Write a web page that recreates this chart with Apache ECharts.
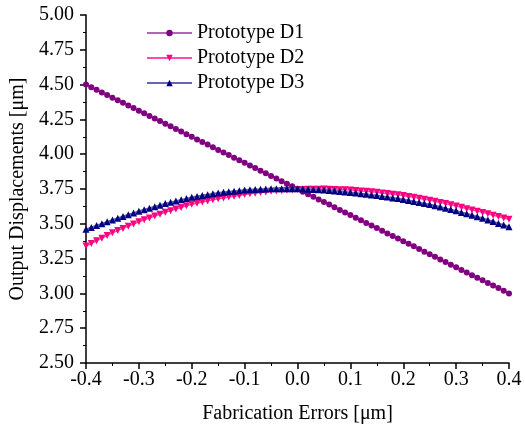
<!DOCTYPE html>
<html>
<head>
<meta charset="utf-8">
<script src="https://cdn.jsdelivr.net/npm/echarts@6/dist/echarts.min.js"></script>
<style>
  html, body { margin: 0; padding: 0; background: #fff; }
  #chart { width: 525px; height: 433px; }
</style>
</head>
<body>
<div id="chart"></div>
<script>
// fabrication error (um), step 0.01
var errors = [
  -0.40, -0.39, -0.38, -0.37, -0.36, -0.35, -0.34, -0.33, -0.32, -0.31,
  -0.30, -0.29, -0.28, -0.27, -0.26, -0.25, -0.24, -0.23, -0.22, -0.21,
  -0.20, -0.19, -0.18, -0.17, -0.16, -0.15, -0.14, -0.13, -0.12, -0.11,
  -0.10, -0.09, -0.08, -0.07, -0.06, -0.05, -0.04, -0.03, -0.02, -0.01,
  0.00, 0.01, 0.02, 0.03, 0.04, 0.05, 0.06, 0.07, 0.08, 0.09,
  0.10, 0.11, 0.12, 0.13, 0.14, 0.15, 0.16, 0.17, 0.18, 0.19,
  0.20, 0.21, 0.22, 0.23, 0.24, 0.25, 0.26, 0.27, 0.28, 0.29,
  0.30, 0.31, 0.32, 0.33, 0.34, 0.35, 0.36, 0.37, 0.38, 0.39,
  0.40
];

var protoD1 = [
  4.500, 4.481, 4.463, 4.444, 4.425, 4.406, 4.388, 4.369, 4.350, 4.331,
  4.313, 4.294, 4.275, 4.256, 4.238, 4.219, 4.200, 4.181, 4.163, 4.144,
  4.125, 4.106, 4.088, 4.069, 4.050, 4.031, 4.013, 3.994, 3.975, 3.956,
  3.938, 3.919, 3.900, 3.881, 3.863, 3.844, 3.825, 3.806, 3.788, 3.769,
  3.750, 3.731, 3.713, 3.694, 3.675, 3.656, 3.638, 3.619, 3.600, 3.581,
  3.563, 3.544, 3.525, 3.506, 3.488, 3.469, 3.450, 3.431, 3.413, 3.394,
  3.375, 3.356, 3.338, 3.319, 3.300, 3.281, 3.263, 3.244, 3.225, 3.206,
  3.188, 3.169, 3.150, 3.131, 3.113, 3.094, 3.075, 3.056, 3.038, 3.019,
  3.000
];

var protoD2 = [
  3.340, 3.359, 3.378, 3.397, 3.416, 3.435, 3.451, 3.467, 3.483, 3.499,
  3.515, 3.529, 3.542, 3.556, 3.569, 3.583, 3.594, 3.606, 3.617, 3.629,
  3.640, 3.648, 3.656, 3.664, 3.672, 3.680, 3.686, 3.692, 3.698, 3.704,
  3.710, 3.715, 3.719, 3.724, 3.728, 3.733, 3.736, 3.738, 3.741, 3.743,
  3.746, 3.747, 3.748, 3.748, 3.749, 3.750, 3.748, 3.747, 3.745, 3.744,
  3.742, 3.739, 3.736, 3.733, 3.730, 3.727, 3.722, 3.717, 3.713, 3.708,
  3.703, 3.696, 3.690, 3.683, 3.677, 3.670, 3.662, 3.653, 3.645, 3.636,
  3.628, 3.619, 3.609, 3.600, 3.591, 3.582, 3.572, 3.562, 3.552, 3.542,
  3.532
];

var protoD3 = [
  3.460, 3.473, 3.487, 3.500, 3.514, 3.527, 3.540, 3.552, 3.565, 3.577,
  3.590, 3.601, 3.612, 3.623, 3.634, 3.645, 3.654, 3.663, 3.672, 3.681,
  3.690, 3.696, 3.703, 3.709, 3.716, 3.722, 3.726, 3.730, 3.734, 3.738,
  3.742, 3.744, 3.746, 3.748, 3.750, 3.752, 3.752, 3.752, 3.752, 3.752,
  3.752, 3.750, 3.748, 3.746, 3.744, 3.742, 3.739, 3.735, 3.732, 3.728,
  3.725, 3.721, 3.716, 3.712, 3.707, 3.703, 3.697, 3.692, 3.686, 3.681,
  3.675, 3.668, 3.660, 3.653, 3.645, 3.638, 3.629, 3.620, 3.611, 3.602,
  3.593, 3.582, 3.572, 3.561, 3.551, 3.540, 3.528, 3.516, 3.503, 3.491,
  3.479
];

var seriesNames = ["Prototype D1", "Prototype D2", "Prototype D3"];

function pairs(ys) {
  return errors.map(function (x, i) { return [x, ys[i]]; });
}

var font = "'Liberation Serif', 'Times New Roman', serif";

var chart = echarts.init(document.getElementById("chart"));

var axisCommon = {
  axisLine: { onZero: false, lineStyle: { color: "#000", width: 1.5 } },
  axisTick: { inside: false, length: 6, lineStyle: { color: "#000", width: 1.5 } },
  minorTick: { show: true, splitNumber: 2, length: 3, lineStyle: { color: "#000", width: 1 } },
  splitLine: { show: false },
  axisLabel: { color: "#000", fontFamily: font, fontSize: 20 },
  nameTextStyle: { color: "#000", fontFamily: font, fontSize: 20 }
};

var option = {
  backgroundColor: "#fff",
  animation: false,
  grid: { left: 83, right: 16, top: 15, bottom: 70, containLabel: false },
  legend: {
    orient: "vertical",
    left: 146,
    top: 23,
    padding: 0,
    itemGap: 5,
    itemWidth: 45,
    itemHeight: 8,
    textStyle: { color: "#000", fontFamily: font, fontSize: 20, lineHeight: 20, padding: [0, 0, 0, 0] },
    data: seriesNames
  },
  xAxis: Object.assign({}, axisCommon, {
    type: "value",
    min: -0.4,
    max: 0.4,
    interval: 0.1,
    name: "Fabrication Errors [\u03bcm]",
    nameLocation: "middle",
    nameGap: 41,
    axisLabel: Object.assign({}, axisCommon.axisLabel, {
      margin: 7,
      formatter: function (v) { return v.toFixed(1); }
    })
  }),
  yAxis: Object.assign({}, axisCommon, {
    type: "value",
    min: 2.5,
    max: 5.0,
    interval: 0.25,
    name: "Output Displacements [\u03bcm]",
    nameLocation: "middle",
    nameGap: 58,
    axisLabel: Object.assign({}, axisCommon.axisLabel, {
      margin: 12,
      formatter: function (v) { return v.toFixed(2); }
    })
  }),
  series: [
    {
      name: seriesNames[0],
      type: "line",
      data: pairs(protoD1),
      symbol: "circle",
      symbolSize: 6,
      itemStyle: { color: "#800080" },
      lineStyle: { color: "#b266b2", width: 1.5 },
      z: 3
    },
    {
      name: seriesNames[1],
      type: "line",
      data: pairs(protoD2),
      symbol: "triangle",
      symbolRotate: 180,
      symbolSize: 7,
      itemStyle: { color: "#ff0080" },
      lineStyle: { color: "#ff4da6", width: 1.5 },
      z: 2
    },
    {
      name: seriesNames[2],
      type: "line",
      data: pairs(protoD3),
      symbol: "triangle",
      symbolSize: 7,
      itemStyle: { color: "#000080" },
      lineStyle: { color: "#6666b3", width: 2 },
      z: 4
    }
  ]
};

chart.setOption(option);
</script>
</body>
</html>
